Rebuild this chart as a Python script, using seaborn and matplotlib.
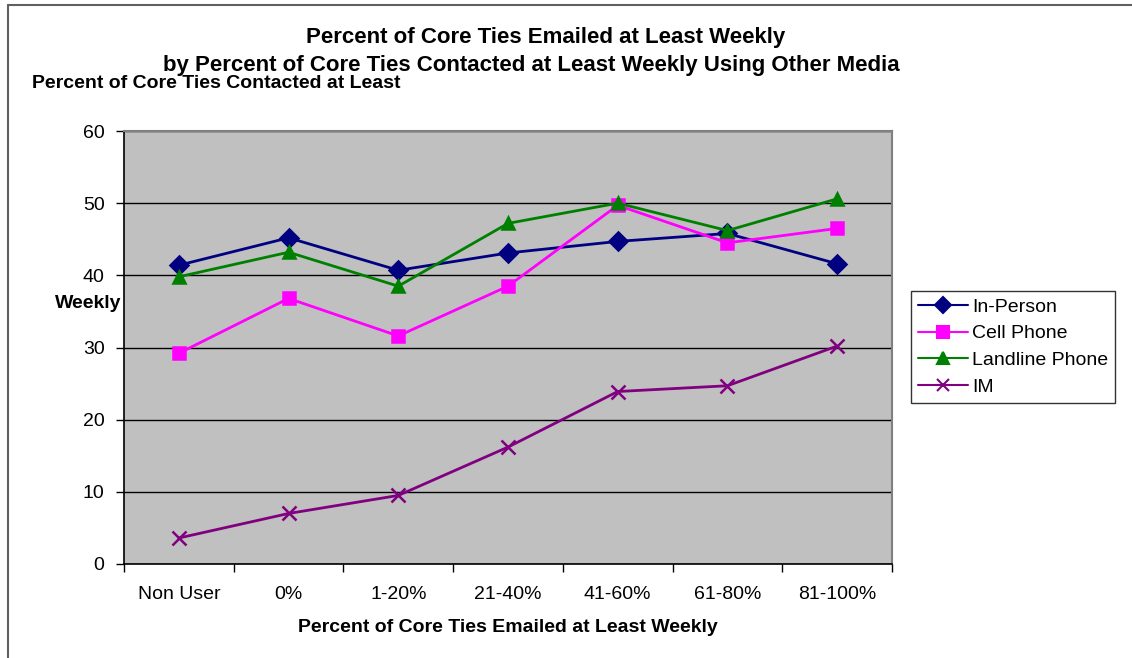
import numpy as np
import pandas as pd
import matplotlib.pyplot as plt
import matplotlib.lines as mlines
import seaborn as sns

categories = ["Non User", "0%", "1-20%", "21-40%", "41-60%", "61-80%", "81-100%"]
in_person = [41.4, 45.2, 40.7, 43.1, 44.7, 45.8, 41.6]
cell_phone = [29.2, 36.8, 31.6, 38.5, 49.7, 44.5, 46.5]
landline_phone = [39.8, 43.2, 38.5, 47.2, 50.0, 46.2, 50.6]
im = [3.6, 7.0, 9.5, 16.2, 23.9, 24.7, 30.2]

series = {
    "In-Person": in_person,
    "Cell Phone": cell_phone,
    "Landline Phone": landline_phone,
    "IM": im,
}
colors = {"In-Person": "#000080", "Cell Phone": "#FF00FF",
          "Landline Phone": "#008000", "IM": "#800080"}
markers = {"In-Person": "D", "Cell Phone": "s", "Landline Phone": "^", "IM": "x"}

sns.set_theme(style="white")
plt.rcParams['font.family'] = ['Liberation Sans', 'DejaVu Sans']
plt.rcParams['text.color'] = 'black'
plt.rcParams['xtick.color'] = 'black'
plt.rcParams['ytick.color'] = 'black'
plt.rcParams['axes.labelcolor'] = 'black'

fig = plt.figure(figsize=(11.32, 6.58), dpi=100)
ax = fig.add_axes([124 / 1132, 1 - 564 / 658, (892 - 124) / 1132, (564 - 131) / 658])
ax.set_facecolor("#C0C0C0")

positions = list(range(len(categories)))
for name, vals in series.items():
    size = 10 if name == "IM" else 9
    sns.lineplot(x=positions, y=vals, color=colors[name], marker=markers[name],
                 markersize=size, markeredgewidth=1.8, markeredgecolor=colors[name],
                 linewidth=2, ax=ax, label=None)

ax.set_xlim(-0.5, 6.5)
ax.set_ylim(0, 60)
ax.set_yticks(range(0, 61, 10))
ax.yaxis.grid(True, color="black", linewidth=1)
ax.set_axisbelow(True)
ax.set_xticks(positions)
ax.set_xticklabels(categories, fontsize=14)
ax.set_xticks(np.arange(-0.5, 7, 1), minor=True)
ax.tick_params(axis="x", which="major", length=0, pad=16)
ax.tick_params(axis="x", which="minor", length=6, width=1, color="black", direction="out", bottom=True)
ax.tick_params(axis="y", length=6, width=1, color="black", direction="out", left=True, labelsize=14, pad=8)
ax.set_xlabel("Percent of Core Ties Emailed at Least Weekly", fontsize=14, fontweight="bold", labelpad=11)
ax.set_ylabel("")

for side in ["top", "right"]:
    ax.spines[side].set_color("#808080")
    ax.spines[side].set_linewidth(1.5)
for side in ["left", "bottom"]:
    ax.spines[side].set_color("black")
    ax.spines[side].set_linewidth(1.2)

handles = [mlines.Line2D([], [], color=colors[n], marker=markers[n], markersize=8,
                         markeredgewidth=1.5, linewidth=1.5, label=n) for n in series]
leg = fig.legend(handles=handles, loc="center left", bbox_to_anchor=(911 / 1132, 1 - 347 / 658),
                 fontsize=14, frameon=True, fancybox=False, handlelength=2.6,
                 handletextpad=0.2, labelspacing=0.47, borderpad=0.35, borderaxespad=0)
leg.get_frame().set_edgecolor("black")
leg.get_frame().set_linewidth(1)

fig.text(546 / 1132, 1 - 37 / 658, "Percent of Core Ties Emailed at Least Weekly",
         ha="center", va="center", fontsize=16, fontweight="bold")
fig.text(531 / 1132, 1 - 65 / 658, "by Percent of Core Ties Contacted at Least Weekly Using Other Media",
         ha="center", va="center", fontsize=16, fontweight="bold")
fig.text(32 / 1132, 1 - 84 / 658, "Percent of Core Ties Contacted at Least",
         ha="left", va="center", fontsize=14, fontweight="bold")
fig.text(55 / 1132, 1 - 303 / 658, "Weekly",
         ha="left", va="center", fontsize=14, fontweight="bold")

fig.add_artist(mlines.Line2D([8 / 1132, 8 / 1132], [0, 1 - 5 / 658], color="#606060", linewidth=1.5))
fig.add_artist(mlines.Line2D([8 / 1132, 1], [1 - 5 / 658, 1 - 5 / 658], color="#606060", linewidth=1.5))

fig.savefig("out.png", dpi=100, facecolor="white")
